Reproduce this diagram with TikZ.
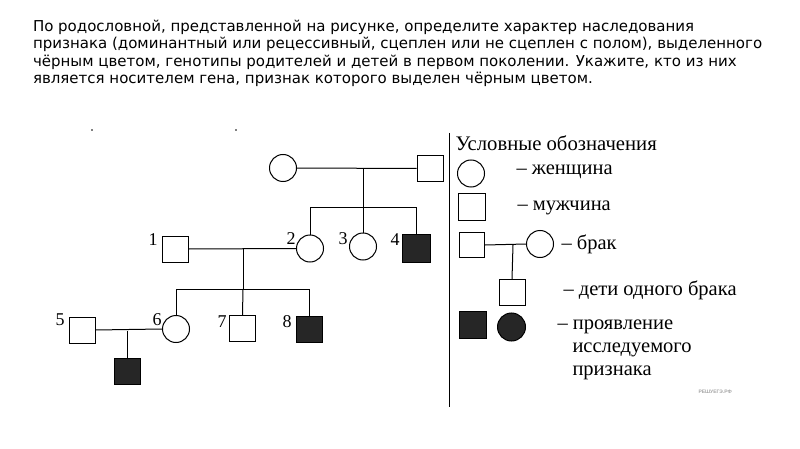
\documentclass[tikz,border=0pt]{standalone}
\usepackage{fontspec}
\setmainfont{Liberation Serif}
\newfontfamily\topfont{DejaVu Sans}
\newfontfamily\wmfont{Liberation Sans}
\begin{document}
\begin{tikzpicture}[x=1pt,y=-1pt,line width=1pt,
  fem/.style={circle,draw,minimum size=27pt,inner sep=0pt},
  femf/.style={fem,fill=black!85},
  mal/.style={rectangle,draw,minimum size=26pt,inner sep=0pt},
  malf/.style={mal,fill=black!85},
  num/.style={font=\fontsize{18}{18}\selectfont,inner sep=0pt},
  leg/.style={font=\fontsize{20.5}{21}\selectfont,inner sep=0pt,anchor=west},
  toptxt/.style={font=\topfont\fontsize{15}{15}\selectfont,inner sep=0pt,anchor=base west}]
\useasboundingbox (0,0) rectangle (800,449);
% question text
\node[toptxt] (t1) at (32.5,31.5) {По родословной, представленной на рисунке, определите характер наследования};
\node[toptxt] (t2) at (32.5,49) {признака (доминантный или рецессивный, сцеплен или не сцеплен с полом), выделенного};
\node[toptxt] (t3) at (32.5,66.5) {чёрным цветом, генотипы родителей и детей в первом поколении. Укажите, кто из них};
\node[toptxt] (t4) at (32.5,84) {является носителем гена, признак которого выделен чёрным цветом.};
% small marks
\fill (92,130) circle (0.9);
\fill (236,130) circle (0.9);
% generation I
\node[fem] (gf) at (283,168) {};
\node[mal] (gm) at (430,168.5) {};
\coordinate (gd) at (363,168);
\coordinate (gs) at (363,208);
\draw (gf) -- (gm);
\draw (gd) -- (gs);
% generation II
\node[mal] (p1) at (175.5,249) {};
\node[fem] (p2) at (310,248.5) {};
\node[fem] (p3) at (363,246.5) {};
\node[malf,minimum size=28pt] (p4) at (416.5,248.5) {};
\draw (p2.north) -- (p2.north |- gs) -- (p4.north |- gs) -- (p4.north);
\draw (gs) -- (p3.north);
\draw (p1.east) -- (p2.west);
\coordinate (hd) at (243,249);
\coordinate (hs) at (243,289);
\draw (hd) -- (hs);
\node[num] (n1) at (153,240) {1};
\node[num] (n2) at (291,239) {2};
\node[num] (n3) at (343,239) {3};
\node[num] (n4) at (395,240) {4};
% generation III
\node[mal] (p5) at (82,330) {};
\node[fem] (p6) at (176,329) {};
\node[mal] (p7) at (242.5,328.5) {};
\node[malf] (p8) at (309.5,329) {};
\draw (p6.north) -- (p6.north |- hs) -- (p8.north |- hs) -- (p8.north);
\draw (hs) -- (p7.north);
\draw (p5.east) -- (p6.west);
\node[num] (n5) at (60,320) {5};
\node[num] (n6) at (157,320) {6};
\node[num] (n7) at (222,322) {7};
\node[num] (n8) at (287,322) {8};
% generation IV
\coordinate (kd) at (127,331);
\node[malf] (p9) at (127,371) {};
\draw (kd) -- (p9.north);
% separator
\coordinate (sa) at (449,133);
\coordinate (sb) at (449,407);
\draw (sa) -- (sb);
% legend
\node[leg,font=\fontsize{20.7}{21}\selectfont] (lt) at (455,143) {Условные обозначения};
\node[fem] (lc) at (471,173.5) {};
\node[leg] (lct) at (516,172) {– женщина};
\node[mal,minimum size=27pt] (ls) at (472,207) {};
\node[leg] (lst) at (517,208) {– мужчина};
\node[mal,minimum size=25pt] (lms) at (472,245) {};
\node[fem] (lmc) at (540,244) {};
\draw (lms.east) -- (lmc.west);
\coordinate (lmd) at (513,245);
\node[leg] (lmt) at (561,244) {– брак};
\node[mal] (lk) at (512,292.5) {};
\draw (lmd) -- (lk.north);
\node[leg] (lkt) at (563,290) {– дети одного брака};
\node[malf,minimum size=27pt] (lfs) at (473,324.5) {};
\node[femf,minimum size=28pt] (lfc) at (511.5,327) {};
\node[leg] (lf1) at (557,327) {– проявление};
\node[leg] (lf2) at (572,350) {исследуемого};
\node[leg] (lf3) at (572,373) {признака};
\node[inner sep=0pt,anchor=west,text=black!35,font=\wmfont\bfseries\fontsize{5}{5}\selectfont] (wm) at (698,392) {РЕШУЕГЭ.РФ};
\end{tikzpicture}
\end{document}
